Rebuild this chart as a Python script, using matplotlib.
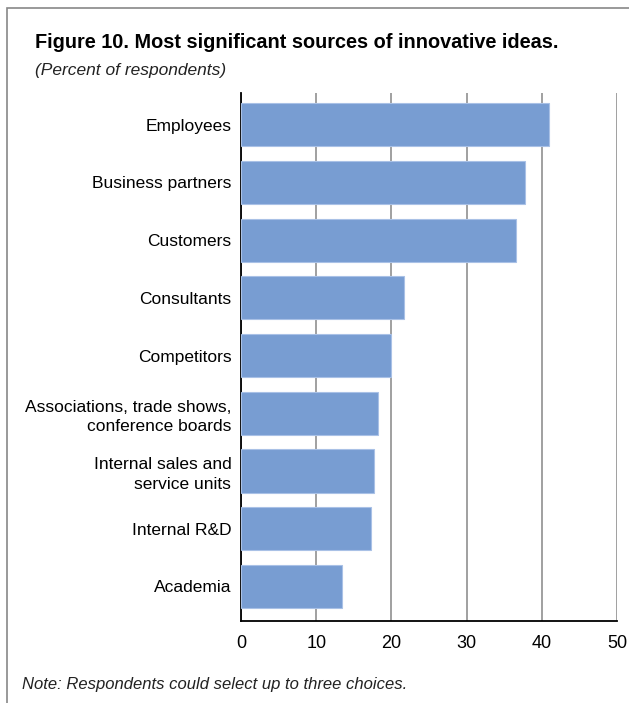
import matplotlib
matplotlib.use("Agg")
import matplotlib.pyplot as plt
from matplotlib.patches import Rectangle

plt.rcParams['font.family'] = ['Liberation Sans Narrow', 'Liberation Sans', 'DejaVu Sans']

# data
sources = ['Employees', 'Business partners', 'Customers', 'Consultants', 'Competitors',
           'Associations, trade shows,\nconference boards', 'Internal sales and\nservice units',
           'Internal R&D', 'Academia']
percent = [41.0, 37.7, 36.6, 21.7, 20.0, 18.2, 17.7, 17.3, 13.4]
ticks = [0, 10, 20, 30, 40, 50]

fig = plt.figure(figsize=(6.29, 7.03), dpi=100)
ax = fig.add_axes([241 / 629, 1 - 621 / 703, 376 / 629, 528 / 703])

y = range(len(sources))
ax.barh(y, percent, height=0.75, color='#789dd2', edgecolor='#a9c1e6', linewidth=0.8, zorder=3)
ax.set_ylim(len(sources) - 0.4, -0.55)
ax.set_xlim(0, 50)
ax.set_xticks(ticks)
ax.set_yticks(list(y))
ax.set_yticklabels(sources, fontsize=12.5, linespacing=1.35, ha='right')
ax.tick_params(axis='y', length=0, pad=7)
ax.tick_params(axis='x', length=0, pad=10, labelsize=13)
ax.xaxis.grid(True, color='#999999', linewidth=1.3, zorder=0)
for s in ['top', 'right']:
    ax.spines[s].set_visible(False)
ax.spines['left'].set_linewidth(1.3)
ax.spines['bottom'].set_linewidth(1.3)
ax.set_axisbelow(True)

fig.text(35 / 629, 1 - 42 / 703, 'Figure 10. Most significant sources of innovative ideas.',
         fontsize=14.3, fontweight='bold', va='center')
fig.text(35 / 629, 1 - 70 / 703, '(Percent of respondents)', fontsize=12.5, style='italic',
         va='center', color='#222222')
fig.text(22 / 629, 1 - 684 / 703, 'Note: Respondents could select up to three choices.',
         fontsize=12, style='italic', va='center', color='#222222')

fig.patches.append(Rectangle((7 / 629, -0.01), 0.99, 1 - 8 / 703 + 0.01, transform=fig.transFigure,
                             fill=False, edgecolor='#888888', linewidth=1.2))

fig.savefig('out.png', dpi=100)
